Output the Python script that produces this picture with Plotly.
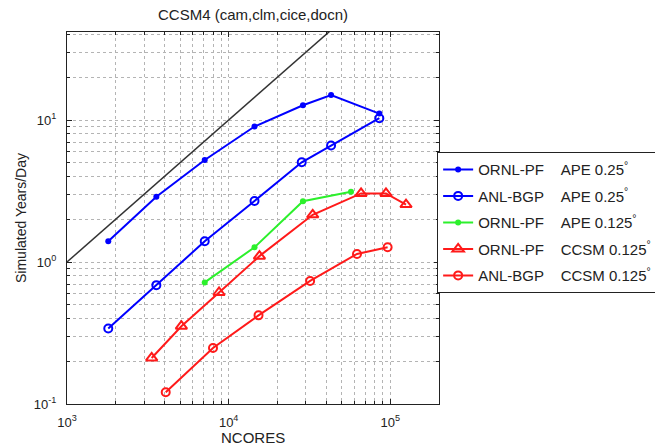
import plotly.graph_objects as go

# ---- data ----
ideal_x = [1000, 100000]
ideal_y = [1, 100]

ornl_ape025_x = [1800, 3570, 7110, 14450, 28800, 43000, 85500]
ornl_ape025_y = [1.40, 2.88, 5.23, 9.0, 12.7, 15.0, 11.1]

anl_ape025_x = [1800, 3570, 7110, 14450, 28300, 43000, 85500]
anl_ape025_y = [0.34, 0.687, 1.40, 2.69, 5.04, 6.61, 10.3]

ornl_ape0125_x = [7110, 14450, 28800, 57100]
ornl_ape0125_y = [0.718, 1.27, 2.68, 3.12]

ornl_ccsm_x = [3340, 5100, 8720, 15500, 33100, 65900, 94000, 125000]
ornl_ccsm_y = [0.211, 0.353, 0.61, 1.10, 2.15, 3.04, 3.04, 2.54]

anl_ccsm_x = [4080, 8000, 15300, 31900, 62200, 96200]
anl_ccsm_y = [0.121, 0.248, 0.421, 0.736, 1.14, 1.27]

GAP = "\u00a0" * 4
names = [
    "ORNL-PF" + GAP + "APE 0.25<sup>°</sup>",
    "ANL-BGP" + GAP + "APE 0.25<sup>°</sup>",
    "ORNL-PF" + GAP + "APE 0.125<sup>°</sup>",
    "ORNL-PF" + GAP + "CCSM 0.125<sup>°</sup>",
    "ANL-BGP" + GAP + "CCSM 0.125<sup>°</sup>",
]

title_text = "CCSM4 (cam,clm,cice,docn)"
x_title = "NCORES"
y_title = "Simulated Years/Day"

x_ticks = [1e3, 1e4, 1e5]
x_ticktext = ["10<sup>3</sup>", "10<sup>4</sup>", "10<sup>5</sup>"]
y_ticks = [0.1, 1, 10]
y_ticktext = ["10<sup>-1</sup>", "10<sup>0</sup>", "10<sup>1</sup>"]

x_minor = [m * 10 ** e for e in (3, 4) for m in range(2, 10)] + [2e5]
y_minor = [m * 10 ** e for e in (-1, 0) for m in range(2, 10)] + [20, 30, 40]

FONT = "Liberation Sans, Arial, Helvetica, sans-serif"
INK = "#222222"
BLUE = "#0000ff"
GREEN = "#2cf02c"
RED = "#ff1a1a"

fig = go.Figure()

fig.add_trace(go.Scatter(x=ideal_x, y=ideal_y, mode="lines",
                         line=dict(color="#333333", width=1.5),
                         showlegend=False, hoverinfo="skip"))

fig.add_trace(go.Scatter(x=ornl_ape025_x, y=ornl_ape025_y, mode="lines+markers",
                         name=names[0], legendgroup="a",
                         line=dict(color=BLUE, width=2),
                         marker=dict(symbol="circle", size=6, color=BLUE)))
fig.add_trace(go.Scatter(x=anl_ape025_x, y=anl_ape025_y, mode="lines+markers",
                         name=names[1], legendgroup="b",
                         line=dict(color=BLUE, width=2),
                         marker=dict(symbol="circle-open", size=8, color=BLUE,
                                     line=dict(width=2))))
fig.add_trace(go.Scatter(x=ornl_ape0125_x, y=ornl_ape0125_y, mode="lines+markers",
                         name=names[2], legendgroup="c",
                         line=dict(color=GREEN, width=2),
                         marker=dict(symbol="circle", size=6, color=GREEN)))
fig.add_trace(go.Scatter(x=ornl_ccsm_x, y=ornl_ccsm_y, mode="lines+markers",
                         name=names[3], legendgroup="d",
                         line=dict(color=RED, width=2),
                         marker=dict(symbol="triangle-up-open", size=10, color=RED,
                                     line=dict(width=2))))
fig.add_trace(go.Scatter(x=anl_ccsm_x, y=anl_ccsm_y, mode="lines+markers",
                         name=names[4], legendgroup="e",
                         line=dict(color=RED, width=2),
                         marker=dict(symbol="circle-open", size=8, color=RED,
                                     line=dict(width=2))))

axis_common = dict(
    type="log",
    showline=True, linecolor=INK, linewidth=1, mirror="allticks",
    ticks="inside", ticklen=5, tickcolor=INK,
    showgrid=True, gridcolor="#b4b4b4", griddash="dot", gridwidth=1,
    zeroline=False,
    tickfont=dict(family=FONT, size=13, color=INK),
)
minor_common = dict(tickmode="array", ticks="inside", ticklen=3, tickcolor=INK,
                    showgrid=True, gridcolor="#b4b4b4", griddash="dot", gridwidth=1)

fig.update_xaxes(
    **axis_common,
    range=[3, 5.301],
    tickmode="array", tickvals=x_ticks, ticktext=x_ticktext,
    ticklabelstandoff=6,
    minor=dict(tickvals=x_minor, **minor_common),
)
fig.update_yaxes(
    **axis_common,
    range=[-1, 1.62],
    tickmode="array", tickvals=y_ticks, ticktext=y_ticktext,
    ticklabelstandoff=7,
    minor=dict(tickvals=y_minor, **minor_common),
)

fig.update_layout(
    width=655, height=446,
    margin=dict(l=67, r=216, t=32, b=42, autoexpand=False),
    paper_bgcolor="white", plot_bgcolor="white",
    title=dict(text=title_text, x=0.5, xref="paper",
               y=1 - 15 / 446, yref="container", yanchor="middle",
               font=dict(family=FONT, size=15, color=INK)),
    legend=dict(x=0.995, xanchor="left", y=0.677, yanchor="top",
                bgcolor="white", bordercolor=INK, borderwidth=1,
                font=dict(family=FONT, size=15, color=INK),
                tracegroupgap=4, itemwidth=30),
    font=dict(family=FONT),
    annotations=[
        dict(text=x_title, xref="paper", yref="paper", x=0.5, y=-34 / 372,
             yanchor="middle", xanchor="center", showarrow=False,
             font=dict(family=FONT, size=15, color=INK)),
        dict(text=y_title, xref="paper", yref="paper", x=-46 / 372, y=0.5,
             xanchor="center", yanchor="middle", textangle=-90, showarrow=False,
             font=dict(family=FONT, size=14, color=INK)),
    ],
)

fig.write_html("out.html")
